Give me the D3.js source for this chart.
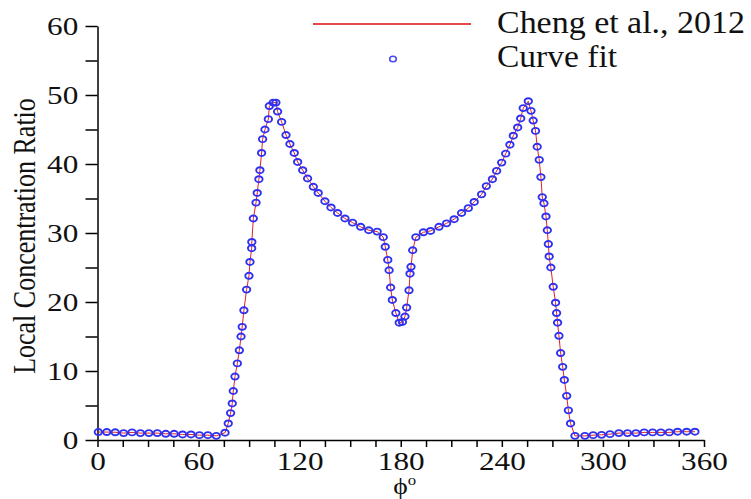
<!DOCTYPE html>
<html>
<head>
<meta charset="utf-8">
<script src="https://cdn.jsdelivr.net/npm/d3@7"></script>
<style>
  body { margin: 0; background: #fff; }
  text { font-family: "Liberation Serif", "Times New Roman", serif; fill: #111; }
  .axis path, .axis line { stroke: #000; stroke-width: 1.5; }
</style>
</head>
<body>
<div id="chart"></div>
<script>
// angle around the tube (deg)
const phi = [
  0.5, 5.5, 10.5, 15.5, 20.5, 25.5, 30.5, 35.5, 40.5, 45.5, 50.5, 55.5, 60.5, 65.5, 70.5,
  75.7, 77.6, 79.0, 80.0, 80.6, 81.6, 83.0, 84.2, 85.2, 85.9, 86.9, 88.5, 89.9, 90.5, 91.5,
  91.6, 92.5, 94.1, 94.8, 95.8, 96.4, 97.4, 98.0, 99.4, 101.4, 102.0, 104.3, 105.9, 106.9,
  109.3, 111.9, 114.2, 116.8, 118.8, 121.8, 124.7, 128.1, 131.0, 135.0, 138.6, 142.5, 146.9,
  151.4, 156.2, 161.0, 166.0, 169.6, 170.8, 172.3, 173.1, 174.0, 175.0, 177.1, 179.1, 181.0,
  182.5, 183.5, 184.9, 185.5, 186.1, 187.1, 189.0, 193.4, 197.7, 202.7, 207.2, 211.7, 216.1,
  220.1, 223.6, 228.0, 230.8, 234.4, 236.9, 239.9, 242.3, 244.8, 246.8, 249.4, 251.2, 252.7,
  255.7, 257.3, 258.6, 260.0, 261.0, 262.2, 263.2, 264.0, 265.0, 266.2, 267.0, 267.6, 268.1,
  269.1, 270.5, 271.9, 272.5, 273.1, 273.9, 274.9, 276.1, 277.1, 278.5, 279.5, 280.8, 283.4,
  289.3, 294.2, 299.2, 304.2, 309.5, 314.6, 319.6, 324.5, 329.5, 334.4, 339.4, 344.3, 349.7, 354.6
];

// local concentration ratio at each angle
const ratio = [
  1.15, 1.15, 1.12, 1.0, 1.1, 1.0, 1.0, 1.0, 0.9, 0.9, 0.8, 0.8, 0.7, 0.7, 0.6,
  1.06, 2.4, 3.9, 5.3, 7.1, 9.2, 11.1, 13.0, 15.0, 16.4, 18.8, 21.8, 23.8, 25.8, 27.8,
  28.7, 32.1, 34.4, 35.8, 37.8, 39.1, 41.6, 43.6, 45.0, 46.5, 48.4, 48.9, 48.9, 47.6,
  46.1, 44.2, 42.9, 41.6, 40.3, 39.1, 37.9, 36.7, 35.8, 34.6, 33.7, 32.9, 32.1,
  31.5, 30.9, 30.4, 30.2, 29.4, 28.0, 26.1, 24.6, 22.1, 20.3, 18.4, 17.0, 17.1,
  17.9, 19.2, 21.7, 24.1, 25.1, 27.5, 29.4, 30.1, 30.3, 30.9, 31.4, 32.0, 32.9,
  33.6, 34.5, 35.6, 36.8, 37.8, 39.0, 40.2, 41.5, 42.8, 44.1, 45.3, 46.6, 48.1,
  49.1, 47.7, 46.3, 44.8, 42.5, 40.6, 38.1, 35.2, 34.3, 32.4, 30.4, 28.4, 26.6,
  25.0, 22.2, 19.9, 18.4, 17.0, 15.1, 12.6, 10.6, 8.7, 6.4, 4.3, 2.4, 0.6,
  0.6, 0.7, 0.75, 0.85, 1.0, 1.0, 1.0, 1.1, 1.1, 1.1, 1.1, 1.2, 1.2, 1.2
];

const xTicks = [0, 60, 120, 180, 240, 300, 360];
const yTicks = [0, 10, 20, 30, 40, 50, 60];
const legendLabels = ['Cheng et al., 2012', 'Curve fit'];

const W = 751, H = 499;
const margin = { top: 26, right: 47, bottom: 59, left: 97.5 };
const width = W - margin.left - margin.right;
const height = H - margin.top - margin.bottom;
const stretch = 1.2; // the picture is a bit wider than tall

const svg = d3.select('#chart').append('svg')
  .attr('width', W).attr('height', H);
const g = svg.append('g')
  .attr('transform', `translate(${margin.left},${margin.top})`);

const x = d3.scaleLinear().domain([0, 360]).range([0, width]);
const y = d3.scaleLinear().domain([0, 60]).range([height, 0]);

// axes
const yAxis = g.append('g').attr('class', 'axis')
  .call(d3.axisLeft(y).tickValues(d3.range(0, 61, 5)).tickSize(12).tickSizeOuter(0).tickPadding(4)
    .tickFormat(d => yTicks.includes(d) ? d : ''));
const xAxis = g.append('g').attr('class', 'axis')
  .attr('transform', `translate(0,${height})`)
  .call(d3.axisBottom(x).tickValues(d3.range(0, 361, 15)).tickSize(7).tickSizeOuter(0).tickPadding(5)
    .tickFormat(d => xTicks.includes(d) ? d : ''));

g.selectAll('.axis text')
  .attr('font-size', 26)
  .attr('font-family', '"Liberation Serif", serif')
  .attr('fill', '#111')
  .attr('transform', `scale(${stretch},1)`);
yAxis.selectAll('text').attr('dy', '0.33em');

// axis titles
g.append('text')
  .attr('transform', `translate(${35 - margin.left},${y(30) + 3}) scale(${stretch},1) rotate(-90)`)
  .attr('text-anchor', 'middle')
  .attr('font-size', 26)
  .text('Local Concentration Ratio');

const xt = g.append('text')
  .attr('transform', `translate(${x(180) + 4},${height + 54}) scale(${stretch},1)`)
  .attr('text-anchor', 'middle')
  .attr('font-size', 23);
xt.append('tspan').text('\u03D5');
xt.append('tspan').attr('font-size', 14).attr('dy', -9).text('o');

// data
const pts = phi.map((p, i) => ({ p, v: ratio[i] }));
const line = d3.line().x(d => x(d.p)).y(d => y(d.v));

g.append('path').datum(pts)
  .attr('fill', 'none')
  .attr('stroke', '#e02424')
  .attr('stroke-width', 1)
  .attr('d', line);

g.selectAll('.mark').data(pts).enter().append('ellipse')
  .attr('class', 'mark')
  .attr('cx', d => x(d.p))
  .attr('cy', d => y(d.v))
  .attr('rx', 3.7).attr('ry', 3.0)
  .attr('fill', 'none')
  .attr('stroke', '#3030f0')
  .attr('stroke-width', 1.9);

// legend
const lg = svg.append('g');
lg.append('line')
  .attr('x1', 313).attr('x2', 471).attr('y1', 24).attr('y2', 24)
  .attr('stroke', '#e44848').attr('stroke-width', 2);
lg.append('ellipse')
  .attr('cx', 393).attr('cy', 59).attr('rx', 3.3).attr('ry', 2.8)
  .attr('fill', 'none').attr('stroke', '#4a4af0').attr('stroke-width', 1.6);
lg.append('text')
  .attr('x', 497).attr('y', 33).attr('font-size', 31)
  .attr('textLength', 248).attr('lengthAdjust', 'spacingAndGlyphs')
  .text(legendLabels[0]);
lg.append('text')
  .attr('x', 497).attr('y', 67).attr('font-size', 31)
  .attr('textLength', 120).attr('lengthAdjust', 'spacingAndGlyphs')
  .text(legendLabels[1]);
</script>
</body>
</html>
